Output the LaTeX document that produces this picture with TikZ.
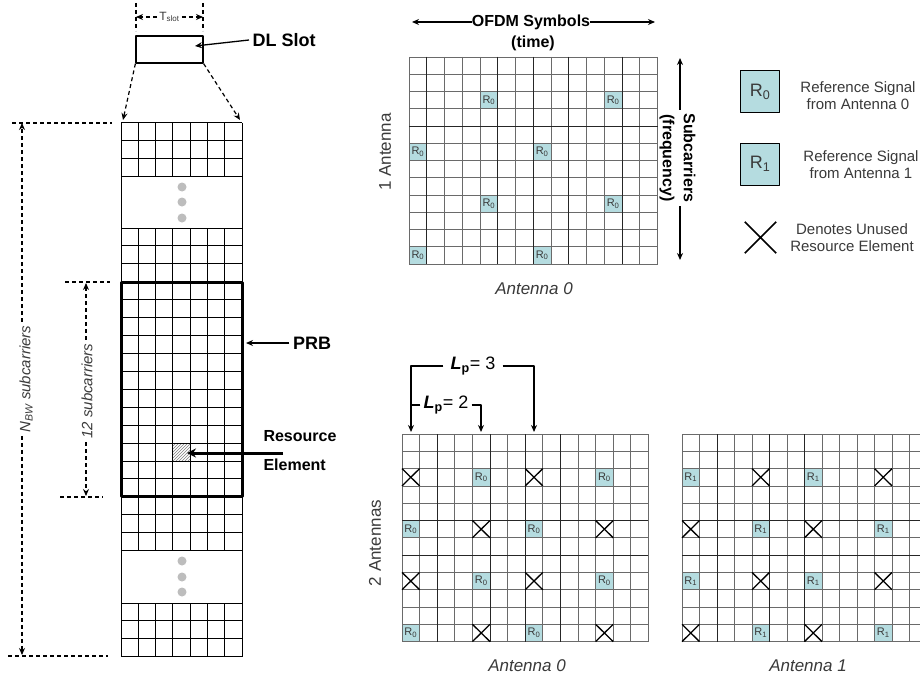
\documentclass[tikz,border=0pt]{standalone}
\usepackage{fontspec}
\setmainfont{Liberation Sans}
\usetikzlibrary{arrows.meta,patterns}
\definecolor{rsfillc}{HTML}{B5DCE0}
\definecolor{gridc}{HTML}{6A6A6A}
\definecolor{txtc}{HTML}{3A3A3A}
\definecolor{dotc}{HTML}{BDBDBD}
\tikzset{
  every picture/.style={line join=round, >={Stealth[length=7pt,width=6pt]}},
  cellline/.style={draw=gridc, line width=0.8pt},
  darkline/.style={draw=black!85, line width=1pt},
  blkline/.style={draw=black, line width=1pt},
  prbline/.style={draw=black, line width=3pt},
  dimline/.style={draw=black, line width=1.2pt, dash pattern=on 4pt off 3pt},
  arrline/.style={draw=black, line width=1.3pt},
  rsfill/.style={fill=rsfillc},
  rslabel/.style={font=\fontsize{11}{11}\selectfont, text=txtc, inner sep=0pt},
  xmark/.style={draw=black, line width=1.3pt},
  boldlbl/.style={font=\bfseries\fontsize{16}{21}\selectfont},
  biglbl/.style={font=\bfseries\fontsize{18}{18}\selectfont},
  plainlbl/.style={font=\fontsize{17}{17}\selectfont, text=txtc},
  itlbl/.style={font=\itshape\fontsize{16}{16}\selectfont, text=txtc},
  dimlbl/.style={font=\itshape\fontsize{15}{15}\selectfont, text=txtc, fill=white},
  lplbl/.style={font=\fontsize{18}{18}\selectfont, fill=white, inner ysep=1pt},
  legtext/.style={font=\fontsize{15}{17}\selectfont, text=txtc, align=center},
  legbox/.style={draw=black, line width=1pt, fill=rsfillc, minimum width=39pt,
    minimum height=42pt, font=\fontsize{18}{18}\selectfont, text=txtc},
  slotbox/.style={draw=black, line width=1.2pt, minimum width=67pt,
    minimum height=27pt, inner sep=0pt},
}
% one OFDM grid: 14 symbols x 12 subcarriers, in cell units
\newcommand{\rsgrid}{%
  \foreach \c in {0,...,14} {\draw[cellline] (\c,0) -- (\c,12);}
  \foreach \r in {0,...,12} {\draw[cellline] (0,\r) -- (14,\r);}}
\newcommand{\rscell}[4]{%
  \fill[rsfill] (#2,#3) rectangle ++(1,1);
  \node[rslabel] (#1) at (#2+0.5,#3+0.5) {R\textsubscript{#4}};}
\newcommand{\xcell}[2]{\draw[xmark] (#1,#2) -- ++(1,1) (#1,#2+1) -- ++(1,-1);}
% block of rows in the left column
\newcommand{\lcblock}[2]{%
  \foreach \r in {0,...,#2} {\draw[blkline] (121,{#1+\r*17.9}) -- (242,{#1+\r*17.9});}
  \foreach \c in {0,...,7} {\draw[blkline] ({121+\c*17.29},#1) -- ({121+\c*17.29},{#1+#2*17.9});}}

\begin{document}
\begin{tikzpicture}[x=1pt,y=-1pt]
\useasboundingbox (0,0) rectangle (920,682);
\clip (0,0) rectangle (920,682);
\fill[white] (0,0) rectangle (920,682);

% left column: DL slot and the carriers of it
\node[slotbox] (slot) at (169.5,49.5) {};
\node[biglbl, anchor=west] (dlslot) at (249,40) {DL Slot};
\coordinate (slotin) at (195,46);
\draw[arrline,->] (dlslot.west) -- (slotin);
\node[font=\fontsize{12}{12}\selectfont, text=txtc, inner xsep=2pt] (tslot) at (169.5,17) {T\textsubscript{slot}};
\coordinate (tsl) at (136,17);
\coordinate (tsr) at (203,17);
\draw[dimline] (136,3) -- (136,31);
\draw[dimline] (203,3) -- (203,31);
\draw[dimline,->] (tslot.west) -- (tsl);
\draw[dimline,->] (tslot.east) -- (tsr);
\coordinate (gtl) at (123,120);
\coordinate (gtr) at (240,120);
\draw[dimline,->] (slot.south west) -- (gtl);
\draw[dimline,->] (slot.south east) -- (gtr);

\fill[pattern=north east lines, pattern color=gray] (172.9,443.1) rectangle (190.2,461);
\lcblock{123}{3}
\lcblock{228}{3}
\lcblock{282}{12}
\lcblock{497}{3}
\lcblock{603}{3}
\draw[blkline] (121,123) -- (121,656.7);
\draw[blkline] (242,123) -- (242,656.7);
\draw[prbline] (121,282) rectangle (242,496.8);
\foreach \y in {187,202,218,561,577,592} {\fill[dotc] (182,\y) circle[radius=4.5];}

\node[biglbl] (prb) at (312,343) {PRB};
\coordinate (prbedge) at (246,343);
\draw[arrline,->] (prb.west) -- (prbedge);
\node[boldlbl, font=\bfseries\fontsize{16}{29}\selectfont, align=left, anchor=west] (re) at (260,451) {Resource\\Element};
\coordinate (restart) at (283,453);
\coordinate (recell) at (187,453);
\draw[line width=3pt, -{Stealth[length=9pt,width=9pt]}] (restart) -- (recell);

\node[dimlbl, rotate=90] (nbw) at (26,379) {N\textsubscript{BW} subcarriers};
\coordinate (nbwtop) at (22,123);
\coordinate (nbwbot) at (22,655);
\draw[dimline] (12,123) -- (112,123);
\draw[dimline] (8,656) -- (108,656);
\draw[dimline,->] (nbw.east -| nbwtop) -- (nbwtop);
\draw[dimline,->] (nbw.west -| nbwbot) -- (nbwbot);
\node[dimlbl, rotate=90] (twelve) at (87,391) {12 subcarriers};
\coordinate (twtop) at (86,283);
\coordinate (twbot) at (86,496);
\draw[dimline] (65,282) -- (110,282);
\draw[dimline] (60,497) -- (103,497);
\draw[dimline,->] (twelve.east -| twtop) -- (twtop);
\draw[dimline,->] (twelve.west -| twbot) -- (twbot);

% one antenna
\begin{scope}[shift={(409,57)}, x=17.75pt, y=-17.25pt]
\foreach \c/\r in {4/2,11/2,0/5,7/5,4/8,11/8,0/11,7/11} {\rscell{ta-\c-\r}{\c}{\r}{0}}
\rsgrid
\foreach \c in {1,5,7,9,12} {\draw[darkline] (\c,0) -- (\c,12);}
\draw[darkline] (0,4) -- (14,4);
\end{scope}
\node[boldlbl, fill=white, inner xsep=0pt] (ofdm) at (531,22) {OFDM Symbols};
\node[boldlbl] (time) at (533,43) {(time)};
\coordinate (ofdml) at (412,22);
\coordinate (ofdmr) at (655,22);
\draw[arrline,->] (ofdm.west) -- (ofdml);
\draw[arrline,->] (ofdm.east) -- (ofdmr);
\node[boldlbl, rotate=-90, align=center] (subc) at (677.5,158) {Subcarriers\\(frequency)};
\coordinate (subtop) at (680,58);
\coordinate (subbot) at (680,260);
\draw[arrline,->] (subc.west -| subtop) -- (subtop);
\draw[arrline,->] (subc.east -| subbot) -- (subbot);
\node[plainlbl, rotate=90] (oneant) at (385,152) {1 Antenna};
\node[itlbl, font=\itshape\fontsize{17}{17}\selectfont] (capa) at (534,289) {Antenna 0};

% legend
\node[legbox] (legr0) at (760,92) {R\textsubscript{0}};
\node[legtext] (legr0t) at (858,96) {Reference Signal\\from Antenna 0};
\node[legbox] (legr1) at (760,164) {R\textsubscript{1}};
\node[legtext] (legr1t) at (861,165) {Reference Signal\\from Antenna 1};
\node[minimum width=31pt, minimum height=31pt, inner sep=0pt] (legx) at (760.5,237.5) {};
\draw[xmark, line width=1.6pt] (legx.south west) -- (legx.north east) (legx.north west) -- (legx.south east);
\node[legtext] (legxt) at (852,238) {Denotes Unused\\Resource Element};

% two antennas
\begin{scope}[shift={(402,434)}, x=17.6pt, y=-17.3pt]
\foreach \c/\r in {4/2,11/2,0/5,7/5,4/8,11/8,0/11,7/11} {\rscell{ba-\c-\r}{\c}{\r}{0}}
\rsgrid
\foreach \c in {2,5,7,9} {\draw[darkline] (\c,0) -- (\c,12);}
\foreach \r in {5,7} {\draw[darkline] (0,\r) -- (14,\r);}
\foreach \c/\r in {0/2,7/2,4/5,11/5,0/8,7/8,4/11,11/11} {\xcell{\c}{\r}}
\end{scope}
\begin{scope}[shift={(682,434)}, x=17.5pt, y=-17.3pt]
\foreach \c/\r in {0/2,7/2,4/5,11/5,0/8,7/8,4/11,11/11} {\rscell{bb-\c-\r}{\c}{\r}{1}}
\rsgrid
\foreach \c in {2,5,7} {\draw[darkline] (\c,0) -- (\c,12);}
\foreach \r in {5,7} {\draw[darkline] (0,\r) -- (14,\r);}
\foreach \c/\r in {4/2,11/2,0/5,7/5,4/8,11/8,0/11,7/11} {\xcell{\c}{\r}}
\end{scope}
\node[plainlbl, rotate=90] (twoant) at (375,543) {2 Antennas};
\node[itlbl, font=\itshape\fontsize{17}{17}\selectfont] (capb) at (527,666) {Antenna 0};
\node[itlbl, font=\itshape\fontsize{17}{17}\selectfont] (capc) at (808,666) {Antenna 1};

\node[lplbl, inner xsep=7pt] (lpthree) at (473,366) {\textbf{\textit{L}\textsubscript{p}}= 3};
\node[lplbl, inner xsep=3pt] (lptwo) at (446,405) {\textbf{\textit{L}\textsubscript{p}}= 2};
\coordinate (lpa) at (411,432);
\coordinate (lpb) at (481,432);
\coordinate (lpc) at (534,432);
\draw[arrline,->] (lpthree.west) -| (lpa);
\draw[arrline,->] (lpthree.east) -| (lpc);
\draw[arrline,->] (lptwo.east) -| (lpb);
\draw[arrline] (lptwo.west) -- (lptwo.west -| lpa);
\end{tikzpicture}
\end{document}
